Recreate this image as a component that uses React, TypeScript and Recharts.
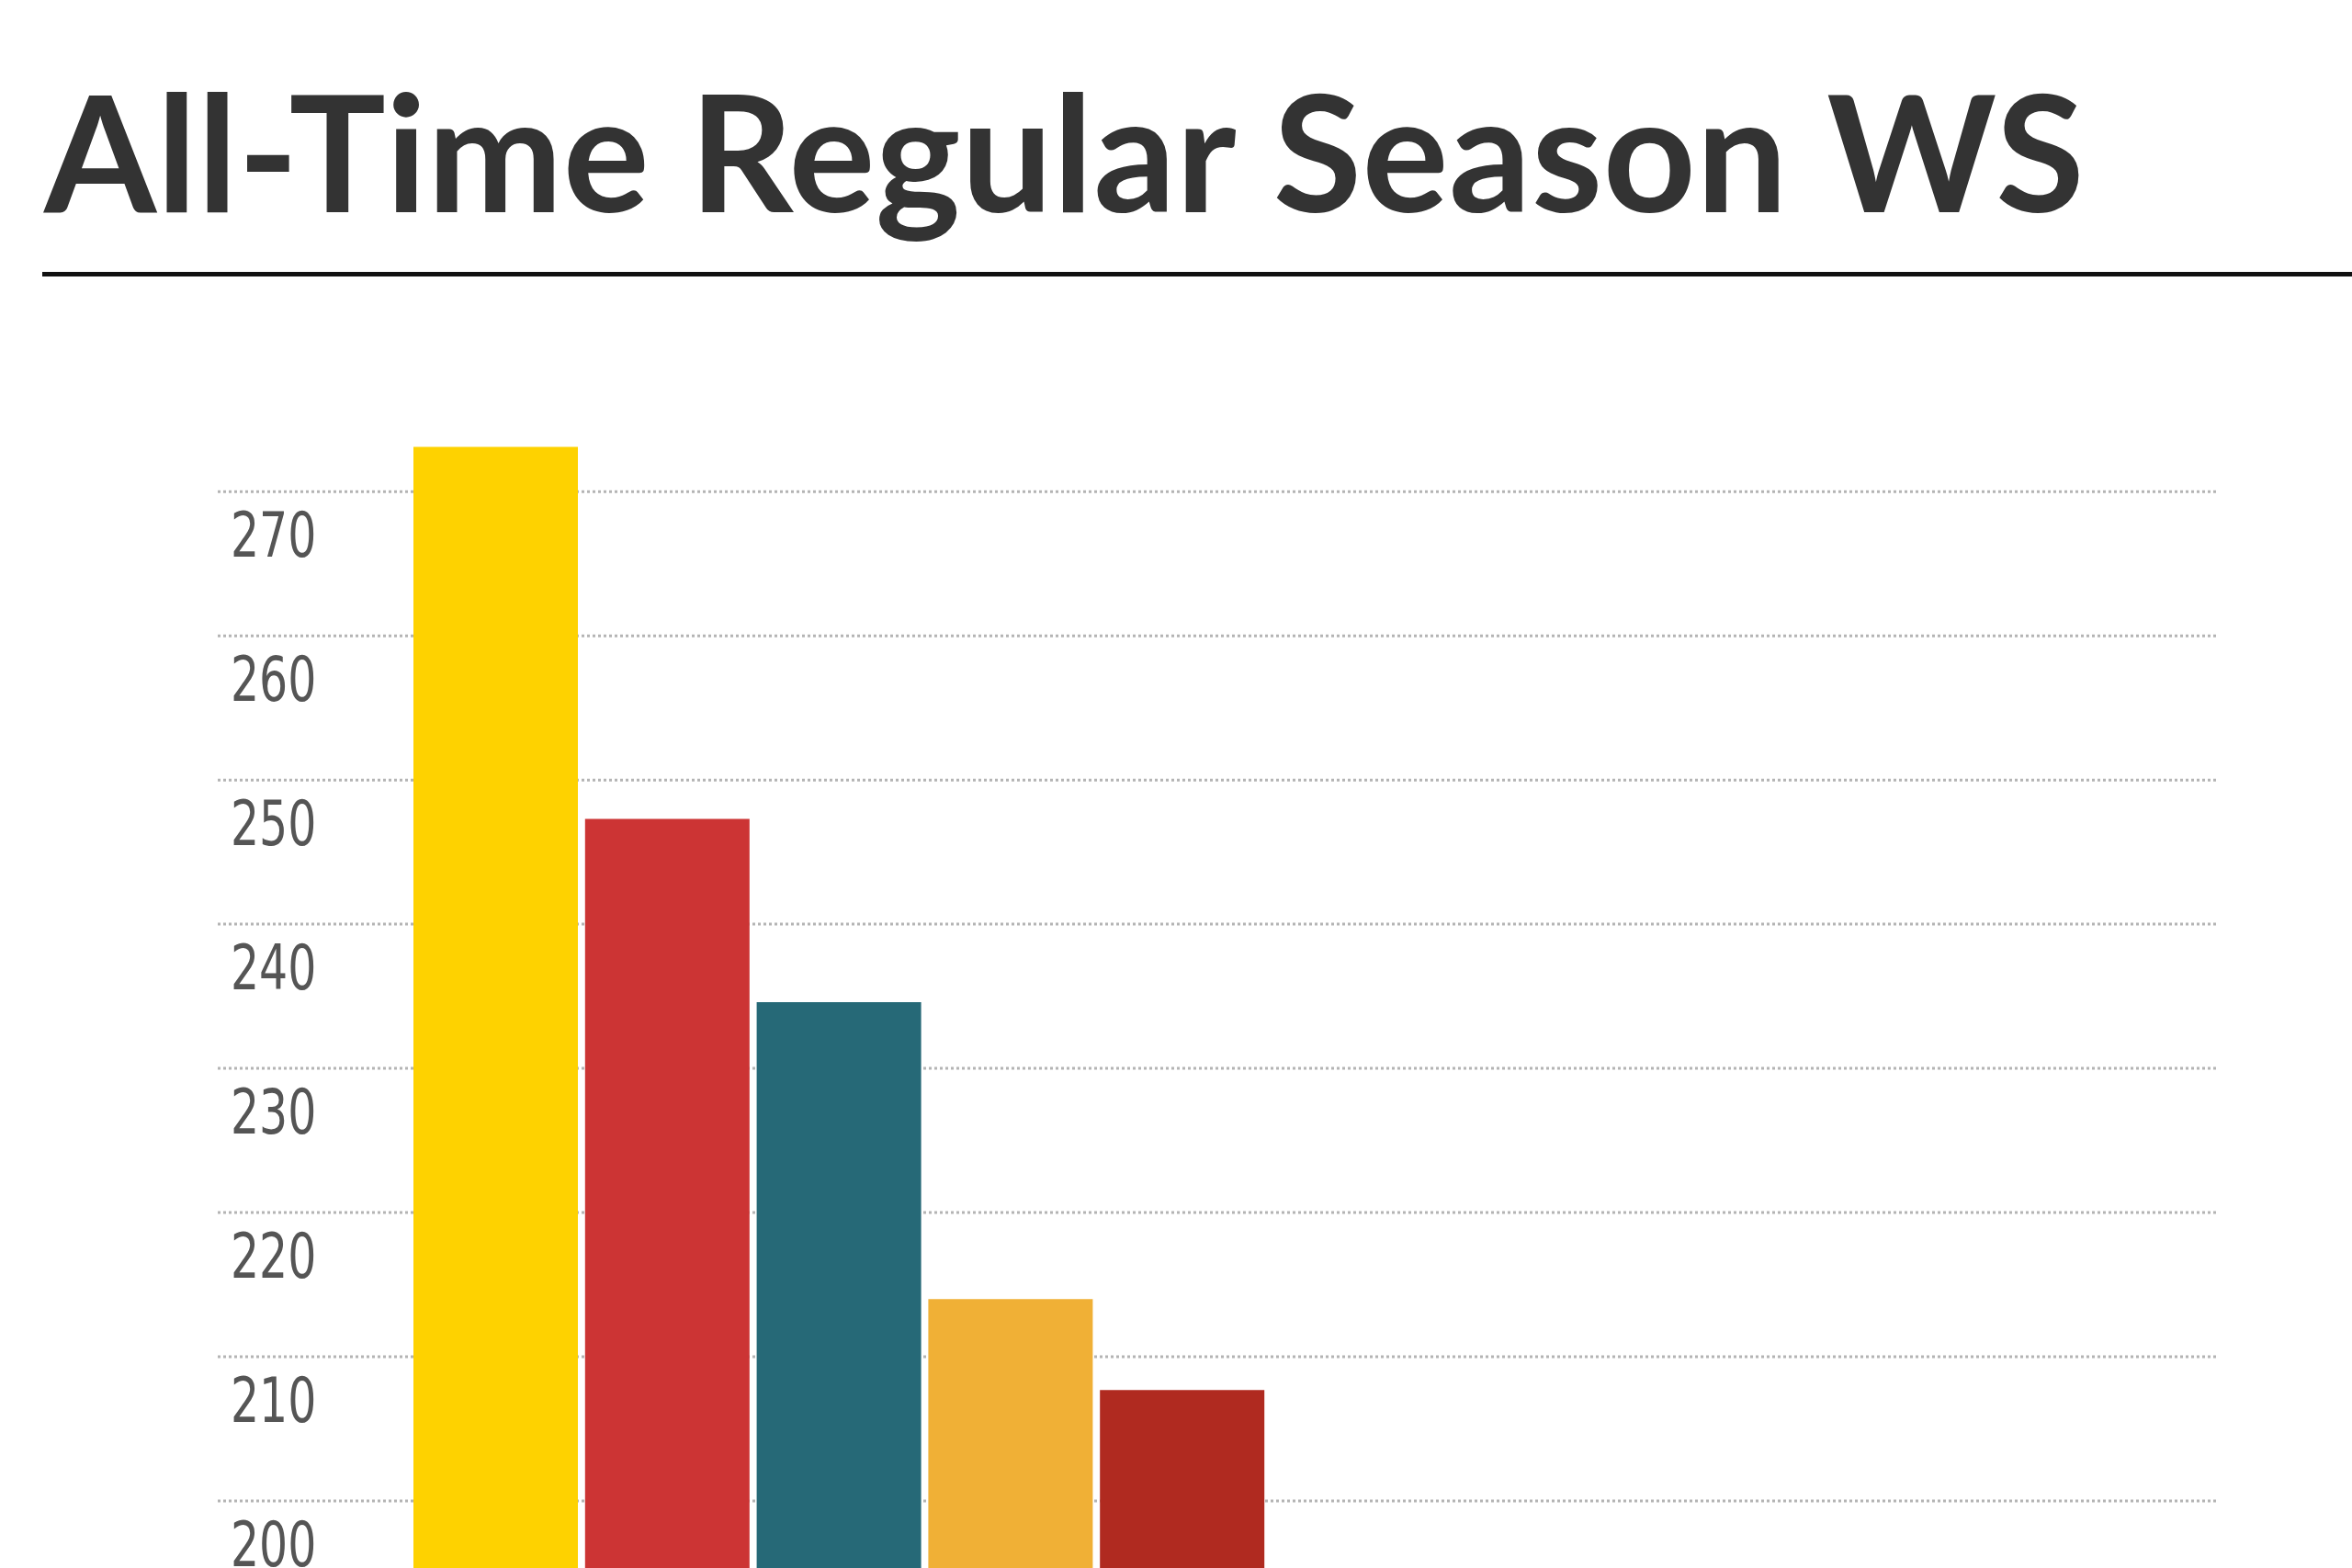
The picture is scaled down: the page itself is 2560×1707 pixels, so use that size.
import React from 'react'
import { BarChart, Bar, XAxis, YAxis, CartesianGrid, Cell } from 'recharts'

const players = ['Kareem Abdul-Jabbar', 'Wilt Chamberlain', 'Karl Malone', 'Michael Jordan', 'John Stockton']
const winShares = [273.1, 247.3, 234.6, 214.0, 207.7]
const barColors = ['#FED200', '#CC3434', '#266977', '#F0B036', '#B02A20']
const yTicks = [200, 210, 220, 230, 240, 250, 260, 270]

const data = players.map((name, i) => ({ name, ws: winShares[i] }))

function TickLabel(props: any) {
    const { y, payload } = props
    // narrow digits, squeezed a bit to look like the condensed face in the original
    return (
        <text
            transform={`translate(251, ${y + 71}) scale(0.8, 1)`}
            textAnchor="start"
            fill="#555555"
            fontSize={68}
            fontFamily="'DejaVu Sans Condensed', 'Liberation Sans Narrow', sans-serif"
        >
            {payload.value}
        </text>
    )
}

export default function App() {
    return (
        <div style={{ position: 'absolute', left: 0, top: 0, width: 2560, height: 1800, background: '#fff', overflow: 'hidden' }}>
            <div
                style={{
                    position: 'absolute',
                    left: 48,
                    top: 63,
                    fontFamily: 'Lato, sans-serif',
                    fontWeight: 700,
                    fontSize: 176,
                    lineHeight: '200px',
                    letterSpacing: 0.5,
                    color: '#333333',
                    whiteSpace: 'nowrap',
                }}
            >
                All-Time Regular Season WS
            </div>
            <div style={{ position: 'absolute', left: 46, top: 296, width: 2514, height: 5, background: '#111' }} />
            <div style={{ position: 'absolute', left: 0, top: 0 }}>
                <BarChart
                    width={2560}
                    height={1801}
                    data={data}
                    margin={{ top: 441, right: 147, bottom: 10, left: 0 }}
                    barCategoryGap={4}
                >
                    <CartesianGrid
                        horizontal
                        vertical={false}
                        syncWithTicks
                        stroke="#b4b4b4"
                        strokeWidth={3}
                        strokeDasharray="3 3"
                    />
                    <XAxis dataKey="name" hide padding={{ left: 209, right: 1033 }} />
                    <YAxis
                        domain={[190, 276]}
                        ticks={yTicks}
                        width={237}
                        axisLine={false}
                        tickLine={false}
                        tick={<TickLabel />}
                        allowDataOverflow
                    />
                    <Bar dataKey="ws" isAnimationActive={false}>
                        {data.map((d, i) => (
                            <Cell key={d.name} fill={barColors[i]} />
                        ))}
                    </Bar>
                </BarChart>
            </div>
        </div>
    )
}
